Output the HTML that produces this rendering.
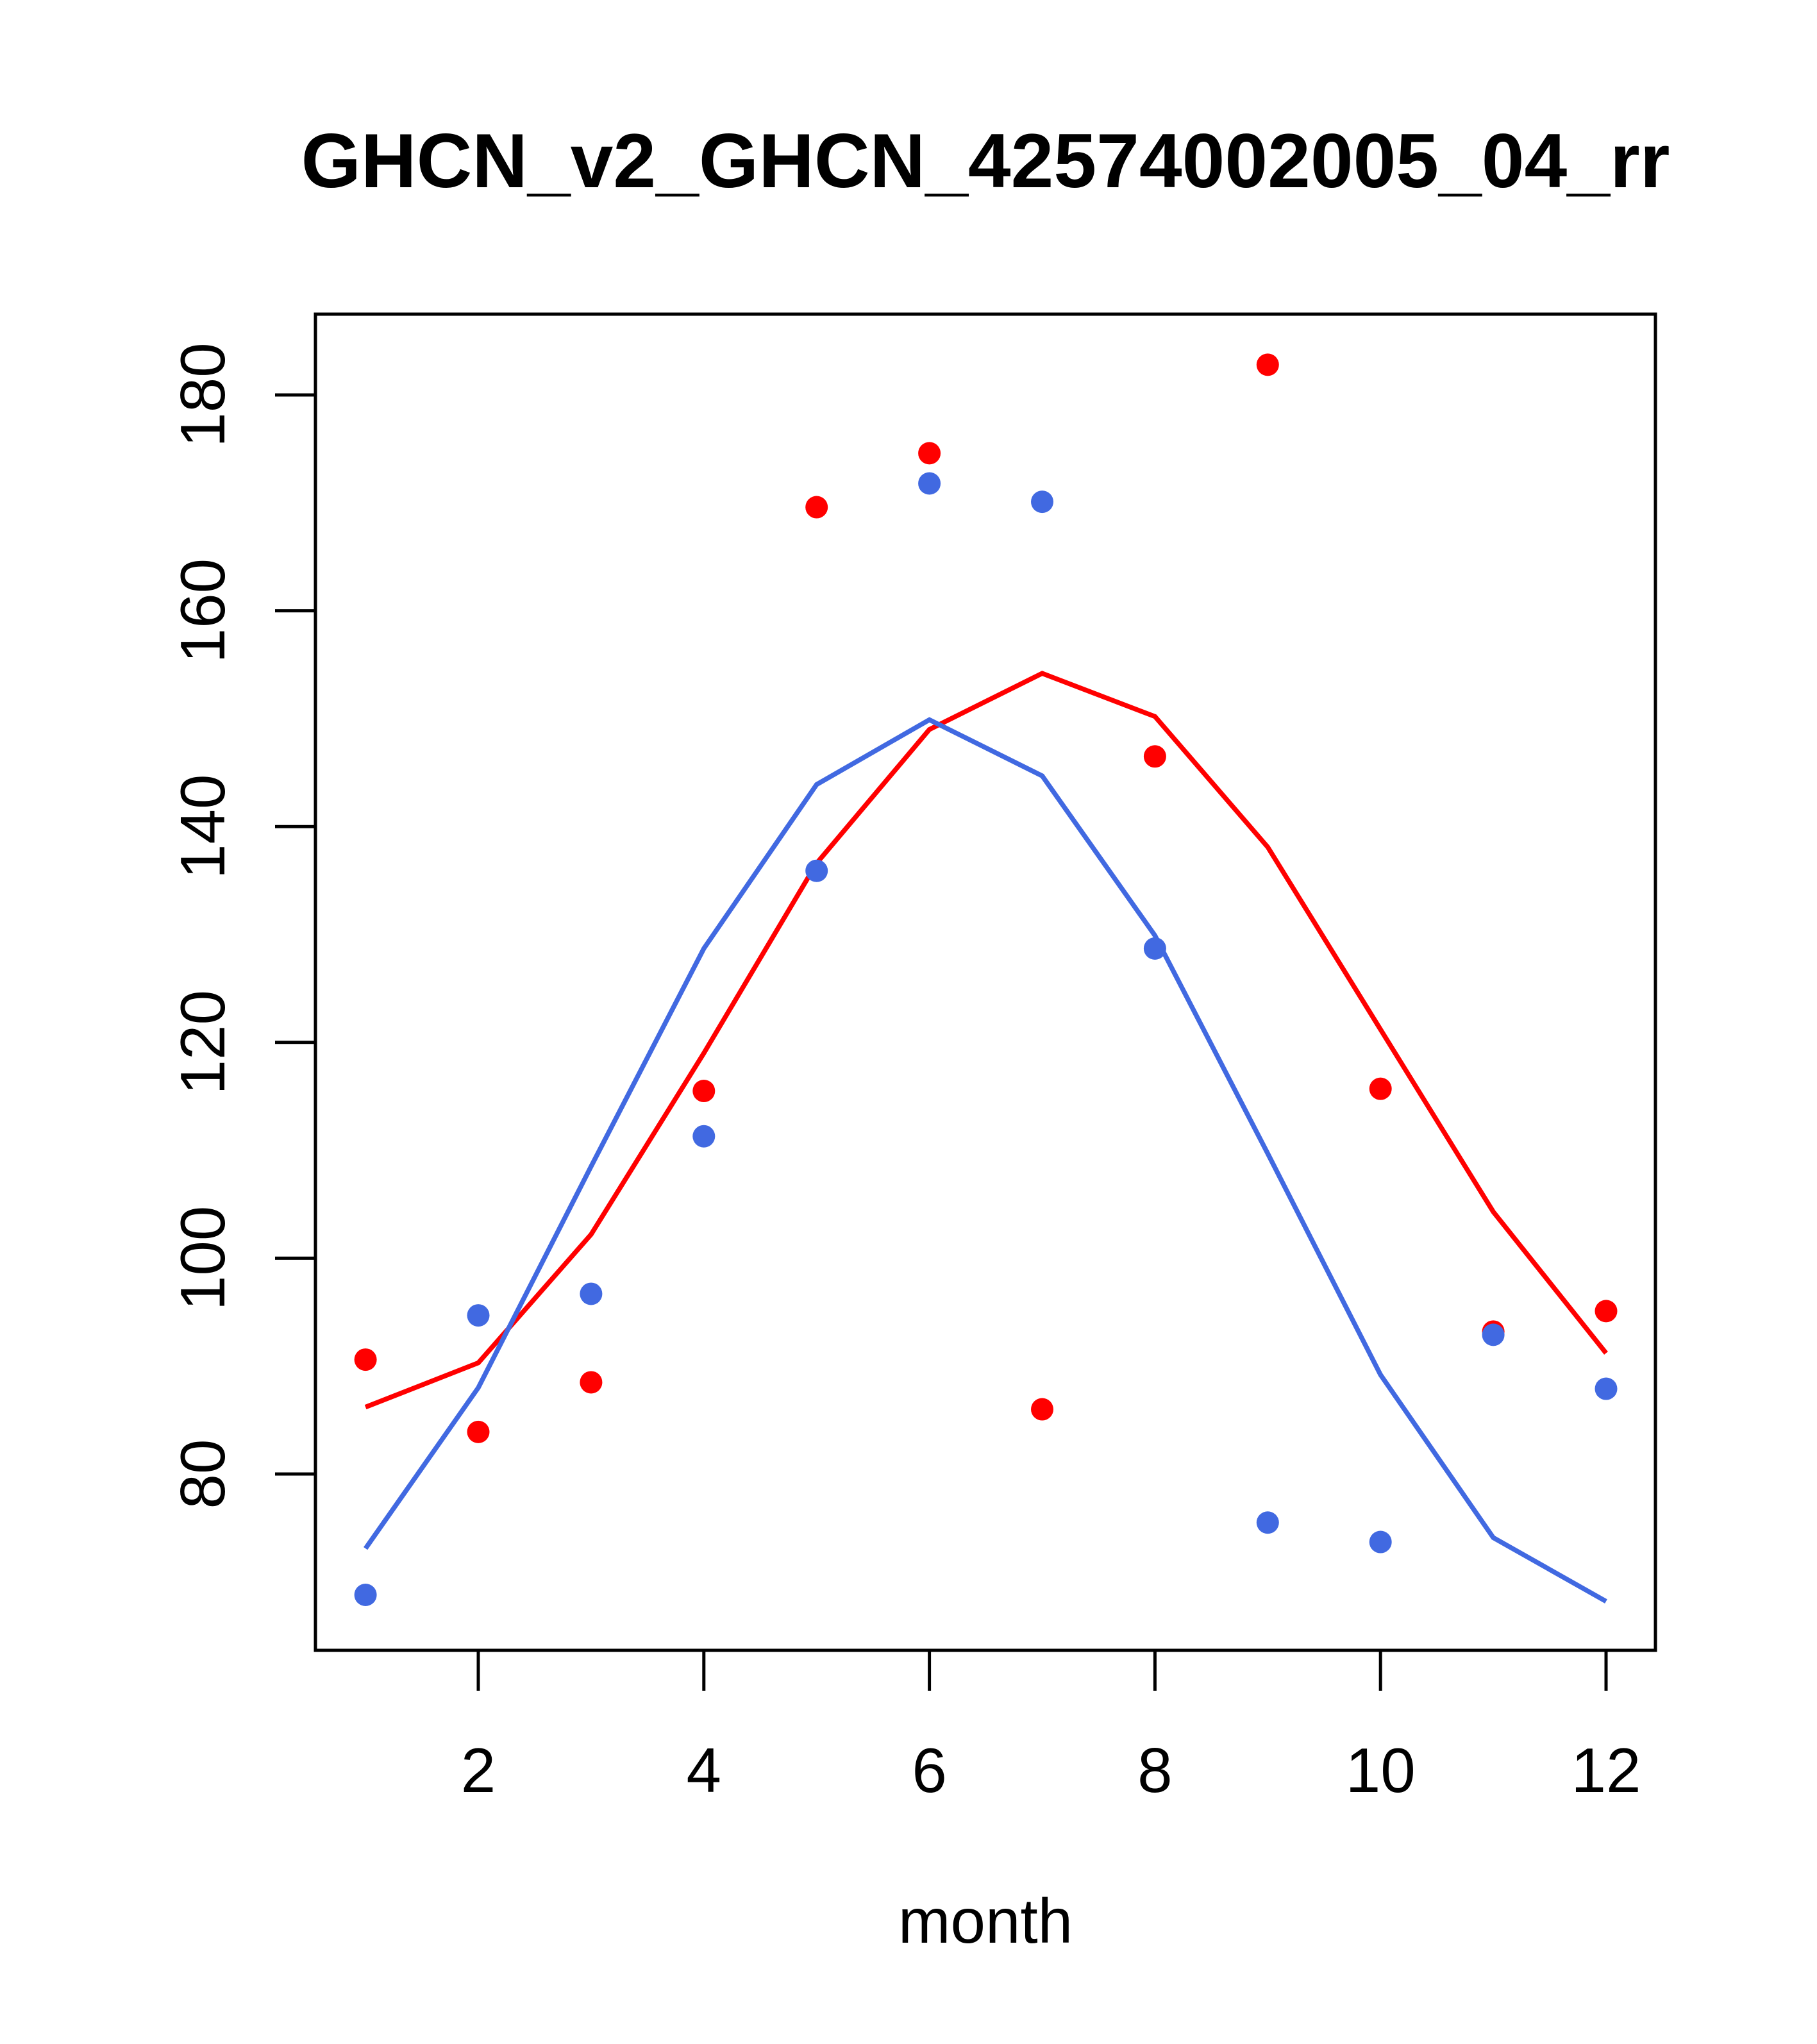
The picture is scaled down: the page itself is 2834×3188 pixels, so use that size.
<!DOCTYPE html>
<html><head><meta charset="utf-8"><style>html,body{margin:0;padding:0;background:#fff}svg{display:block}</style></head>
<body>
<svg id="chart" width="2834" height="3188" viewBox="0 0 2834 3188" xmlns="http://www.w3.org/2000/svg" font-family="Liberation Sans, sans-serif">
<rect width="2834" height="3188" fill="#fff"/>
<text x="1537" y="292" font-size="120" font-weight="bold" text-anchor="middle">GHCN_v2_GHCN_42574002005_04_rr</text>
<rect x="492" y="490" width="2090" height="2084" fill="none" stroke="#000" stroke-width="5"/>
<text x="1537" y="3030" font-size="98" text-anchor="middle">month</text>
<g id="xaxis"></g>
<g id="yaxis"></g>
<g id="series"></g>
</svg>
<script>
const months = [1,2,3,4,5,6,7,8,9,10,11,12];
const redPoints = [90.6,83.9,88.5,115.5,169.6,174.6,86.0,146.5,182.8,115.7,93.2,95.1];
const bluePoints = [68.8,94.7,96.7,111.3,135.9,171.8,170.1,128.7,75.5,73.7,92.9,87.9];
const redLine = [86.2,90.3,102.2,119.0,136.6,149.0,154.2,150.2,138.1,121.2,104.3,91.2];
const blueLine = [73.1,88.0,108.5,128.7,143.9,149.9,144.7,129.9,109.7,89.2,74.1,68.2];
const xTicks = [2,4,6,8,10,12];
const yTicks = [80,100,120,140,160,180];

const NS = "http://www.w3.org/2000/svg";
const xs = m => 746 + (m - 2) * 175.9;
const ys = v => 2299 - (v - 80) * 16.83;
function mk(tag, attrs, parent){const e=document.createElementNS(NS,tag);for(const k in attrs)e.setAttribute(k,attrs[k]);parent.appendChild(e);return e;}
const xa=document.getElementById('xaxis'), ya=document.getElementById('yaxis'), sg=document.getElementById('series');
mk('line',{x1:xs(2),x2:xs(12),y1:2574,y2:2574,stroke:'#000','stroke-width':5},xa);
xTicks.forEach(t=>{
  const l=mk('line',{x1:xs(t),x2:xs(t),y1:2574,y2:2637,stroke:'#000','stroke-width':5},xa);
  
  
  const tx=mk('text',{x:xs(t),y:2795,'font-size':98,'text-anchor':'middle'},xa);
  tx.textContent=t;
  
  
});
mk('line',{x1:492,x2:492,y1:ys(80),y2:ys(180),stroke:'#000','stroke-width':5},ya);
yTicks.forEach(t=>{
  const l=mk('line',{x1:429,x2:492,y1:ys(t),y2:ys(t),stroke:'#000','stroke-width':5},ya);
  
  
  const tx=mk('text',{x:0,y:0,'font-size':98,'text-anchor':'middle',transform:`translate(350,${ys(t)}) rotate(-90)`},ya);
  tx.textContent=t;
  
  
});
function line(vals,color,name){
  const p=mk('polyline',{points:vals.map((v,i)=>xs(months[i])+','+ys(v)).join(' '),fill:'none',stroke:color,'stroke-width':7.5},sg);
  
  
}
function pts(vals,color,name){
  vals.forEach((v,i)=>{
    const c=mk('circle',{cx:xs(months[i]),cy:ys(v),r:17.5,fill:color},sg);
    
    
  });
}
line(redLine,'#ff0000','red-line');
line(blueLine,'#4169e1','blue-line');
pts(redPoints,'#ff0000','red-point');
pts(bluePoints,'#4169e1','blue-point');
</script>
</body></html>
